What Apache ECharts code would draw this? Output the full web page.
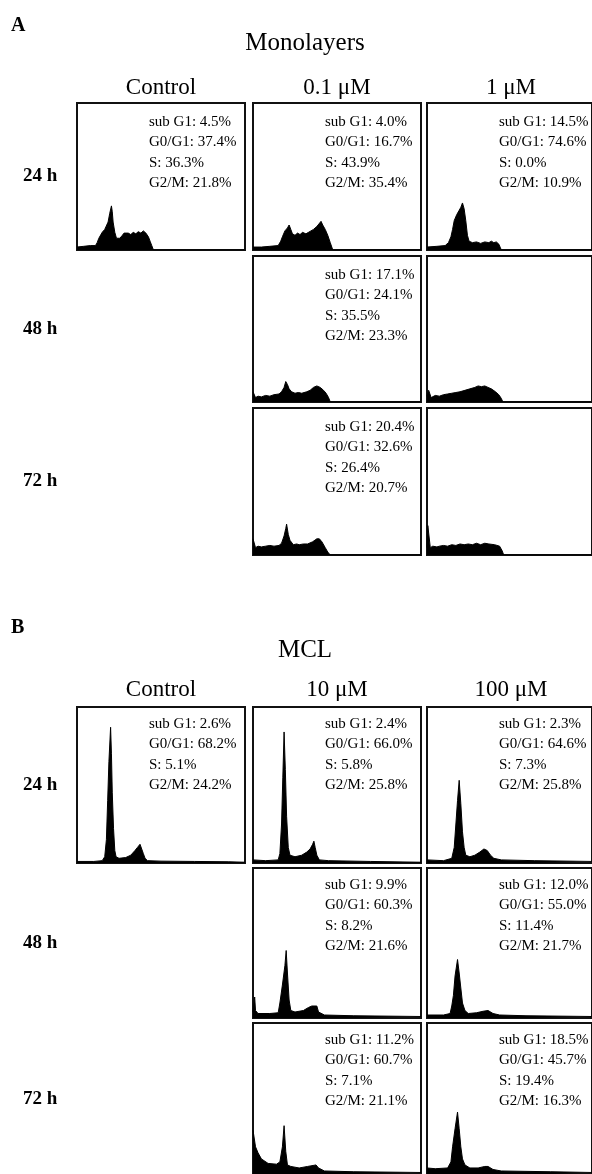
<!DOCTYPE html>
<html><head><meta charset="utf-8">
<script src="https://cdn.jsdelivr.net/npm/echarts@6/dist/echarts.min.js"></script>
<style>html,body{margin:0;padding:0;background:#fff}#c{width:592px;height:1174px}</style>
</head><body><div id="c"></div>
<script>
// ---- labels ----
const panelLetters = ['A', 'B'];
const panelTitles = ['Monolayers', 'MCL'];
const timeLabels = ['24 h', '48 h', '72 h'];
const colLabelsA = ['Control', '0.1 μM', '1 μM'];
const colLabelsB = ['Control', '10 μM', '100 μM'];
const phaseNames = ['sub G1', 'G0/G1', 'S', 'G2/M'];

// ---- cell-cycle percentages [subG1, G0/G1, S, G2/M] ----
const statsA_ctrl_24 = [4.5, 37.4, 36.3, 21.8];
const statsA_01_24 = [4.0, 16.7, 43.9, 35.4];
const statsA_1_24 = [14.5, 74.6, 0.0, 10.9];
const statsA_01_48 = [17.1, 24.1, 35.5, 23.3];
const statsA_01_72 = [20.4, 32.6, 26.4, 20.7];
const statsB_ctrl_24 = [2.6, 68.2, 5.1, 24.2];
const statsB_10_24 = [2.4, 66.0, 5.8, 25.8];
const statsB_100_24 = [2.3, 64.6, 7.3, 25.8];
const statsB_10_48 = [9.9, 60.3, 8.2, 21.6];
const statsB_100_48 = [12.0, 55.0, 11.4, 21.7];
const statsB_10_72 = [11.2, 60.7, 7.1, 21.1];
const statsB_100_72 = [18.5, 45.7, 19.4, 16.3];

// ---- DNA histograms: [channel, relative count] ----
const histA_ctrl_24 = [[0,2],[8,2.5],[16,3],[22,3],[24,5],[26,8],[30,12],[33,14],[35,13],[37,19],[39,25],[41,30],[42,26],[43,19],[45,12],[47,8],[49,7],[51,8],[54,10],[56,11.5],[58,10.5],[61,11.5],[64,10.5],[67,12],[70,11],[73,12.5],[76,11.5],[79,13],[82,11.5],[85,9],[87,6],[89,3],[91,0],[200,0]];
const histA_01_24 = [[0,2],[10,2],[20,2.5],[30,3],[33,6],[35,9],[38,13],[41,15],[43,17],[45,14],[47,11],[50,10],[53,11.5],[56,10.5],[59,12],[63,11],[66,12],[69,13],[72,14],[74,15],[76,16],[78,17],[81,19.5],[83,17],[86,14],[89,10],[92,5],[95,0],[200,0]];
const histA_1_24 = [[0,2],[12,2.5],[22,3],[26,5],[29,9],[31,14],[33,20],[36,24],[39,27],[41,29],[43,32],[45,28],[47,20],[49,10],[51,6],[55,5],[60,5.5],[65,4.5],[70,5.5],[75,5],[78,6],[81,5],[84,5.5],[87,4],[89,1.5],[90,0],[200,0]];
const histA_01_48 = [[0,7],[2,7],[3,3],[6,4],[10,3.5],[15,4.5],[20,4],[25,5],[31,5.5],[34,7],[37,10],[39,14],[41,12],[43,9],[46,7],[50,6],[54,6.5],[58,6],[64,7],[68,8],[72,10],[76,11],[80,10],[84,8],[87,6],[90,3],[92,0],[200,0]];
const histA_1_48 = [[0,4],[2,8],[3,8],[5,3],[10,4.5],[15,4],[20,5],[25,5.5],[30,6],[35,6.5],[40,7],[46,8],[52,9],[58,10],[62,11],[66,10.5],[70,11],[74,10],[78,9],[83,7],[87,5],[90,2.5],[92,0],[200,0]];
const histA_01_72 = [[0,11],[2,11],[3,5],[6,6],[10,5.5],[15,6],[20,6.5],[25,6],[31,6.5],[34,8],[37,13],[39,18],[40,21],[42,14],[44,10],[48,7],[52,7.5],[55,7],[60,7.5],[65,7.5],[71,9],[76,11],[79,11],[82,9],[86,5],[89,2],[92,0],[200,0]];
const histA_1_72 = [[0,5],[1,20],[3,20],[4,5],[7,6],[12,5.5],[15,6],[20,6.5],[25,6],[30,7],[35,6.5],[40,7.5],[45,7],[50,7.5],[55,7],[60,8],[65,7],[70,8],[75,7.5],[82,7],[88,6],[91,3],[93,0],[200,0]];
const histB_ctrl_24 = [[0,1],[20,1],[30,1.5],[33,4],[35,15],[36.5,40],[38,65],[40,87],[41,70],[42,45],[43.5,22],[45,8],[46.5,4],[50,3],[58,3.5],[64,5],[69,8],[72,10],[75,12],[77,11],[79,6],[81,3],[84,1.5],[100,1.2],[140,1],[180,0.8],[200,0.5]];
const histB_10_24 = [[0,2],[15,1.5],[30,2],[32,6],[34,25],[35.5,55],[37,84],[38.5,60],[40,30],[42,10],[44,5],[50,4],[58,5],[64,7],[68,9],[71,12],[72.5,14],[74,10],[76,5],[79,2],[90,1.5],[140,1],[200,0.5]];
const histB_100_24 = [[0,2],[20,1.5],[30,3],[33,10],[35,25],[37,40],[39,53],[41,38],[43,20],[45,10],[47,5],[52,4],[58,5],[64,7],[69,9],[73,8],[77,5],[81,3],[90,2],[130,1.5],[200,1]];
const histB_10_48 = [[0,4],[2,14],[3,5],[6,3],[20,3],[30,3.5],[32,10],[35,22],[38,35],[39.5,45],[41,30],[43,12],[45,5],[50,4],[60,5],[66,7],[70,8],[76,8],[78,4],[85,2],[120,1.5],[200,1]];
const histB_100_48 = [[0,2],[20,2],[28,3],[30,8],[32,15],[34,28],[37,39],[39,30],[41,20],[43,10],[46,5],[50,3],[60,3.5],[68,4.5],[74,5],[80,3],[88,2],[120,1.5],[200,1]];
const histB_10_72 = [[0,29],[2,29],[3,18],[6,14],[10,10],[18,7],[28,6.5],[32,8],[35,18],[37,32],[39,15],[41,6],[45,5],[55,4],[65,5],[75,6],[78,4],[85,2],[120,1.5],[200,1]];
const histB_100_72 = [[0,4],[10,3.5],[25,4],[29,8],[31,18],[34,30],[37,41],[39,30],[41,18],[43,10],[46,6],[52,4],[62,4],[70,5],[74,5],[80,3],[90,2],[150,1.5],[200,1]];

// which cell holds which data: [panel, row, col, hist, stats]
const cells = [
  [0,0,0,histA_ctrl_24,statsA_ctrl_24],
  [0,0,1,histA_01_24,statsA_01_24],
  [0,0,2,histA_1_24,statsA_1_24],
  [0,1,1,histA_01_48,statsA_01_48],
  [0,1,2,histA_1_48,null],
  [0,2,1,histA_01_72,statsA_01_72],
  [0,2,2,histA_1_72,null],
  [1,0,0,histB_ctrl_24,statsB_ctrl_24],
  [1,0,1,histB_10_24,statsB_10_24],
  [1,0,2,histB_100_24,statsB_100_24],
  [1,1,1,histB_10_48,statsB_10_48],
  [1,1,2,histB_100_48,statsB_100_48],
  [1,2,1,histB_10_72,statsB_10_72],
  [1,2,2,histB_100_72,statsB_100_72]
];

// ---- layout ----
const COL_X = [77, 253, 427];
const BOX_W = 168;
const ROWS = [
  [[103,147],[256,146],[408,147]],
  [[707,156],[868,150],[1023,153]]
];
const PANEL = [
  {letterY: 26, titleY: 43, headY: 88, textTop: 19},
  {letterY: 628, titleY: 650, headY: 690, textTop: 17}
];
const SERIF = '"Liberation Serif", "DejaVu Serif", serif';

const grids = [], xAxes = [], yAxes = [], series = [], graphics = [];
function txt(t, x, y, size, weight, align) {
  graphics.push({type:'text', x:x, y:y, z:100,
    style:{text:t, fontSize:size, fontFamily:SERIF, fontWeight:weight||'normal', fill:'#000',
      align:align||'center', verticalAlign:'middle', textAlign:align||'center', textVerticalAlign:'middle'}});
}

cells.forEach((c, i) => {
  const [p, r, col, hist, stats] = c;
  const [top, h] = ROWS[p][r];
  const left = COL_X[col];
  grids.push({left:left, top:top, width:BOX_W, height:h, show:true, borderColor:'#111', borderWidth:2, backgroundColor:'#fff', containLabel:false});
  xAxes.push({gridIndex:i, type:'value', min:0, max:200, show:false});
  yAxes.push({gridIndex:i, type:'value', min:0, max:100, show:false});
  series.push({type:'line', xAxisIndex:i, yAxisIndex:i, data:hist, symbol:'none', silent:true,
    lineStyle:{color:'#000', width:1}, areaStyle:{color:'#000', opacity:1}});
  if (stats) {
    stats.forEach((v, k) => {
      txt(phaseNames[k] + ': ' + v.toFixed(1) + '%', left + 72, top + PANEL[p].textTop + k * 20.5, 15, 'normal', 'left');
    });
  }
});

[0,1].forEach(p => {
  const P = PANEL[p];
  txt(panelLetters[p], 11, P.letterY, 20, 'bold', 'left');
  txt(panelTitles[p], 305, P.titleY, 25, 'normal', 'center');
  const heads = p === 0 ? colLabelsA : colLabelsB;
  heads.forEach((hd, k) => txt(hd, COL_X[k] + BOX_W / 2, P.headY, 23, 'normal', 'center'));
  ROWS[p].forEach((rw, k) => txt(timeLabels[k], 23, rw[0] + rw[1] / 2, 19, 'bold', 'left'));
});

const chart = echarts.init(document.getElementById('c'));
chart.setOption({
  animation:false,
  backgroundColor:'#fff',
  grid:grids, xAxis:xAxes, yAxis:yAxes, series:series,
  graphic:graphics
});
</script></body></html>
